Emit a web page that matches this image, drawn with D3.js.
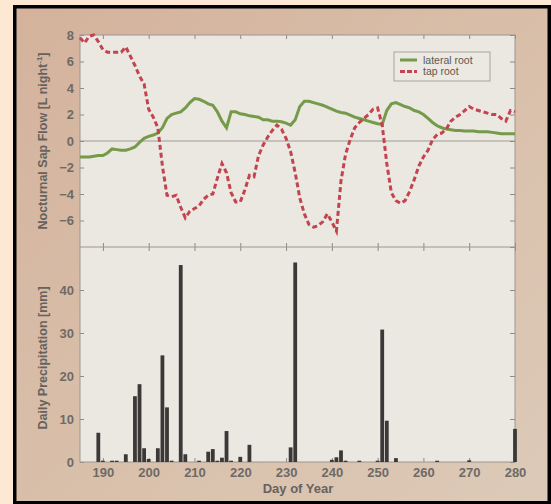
<!DOCTYPE html>
<html>
<head>
<meta charset="utf-8">
<script src="https://cdn.jsdelivr.net/npm/d3@7"></script>
<style>
  body { margin: 0; background: #fde8d3; }
  svg { display: block; font-family: "Liberation Sans", Arial, sans-serif; }
  .tick text { fill: #6e6a66; font-size: 13px; font-weight: bold; }
  .tick line { stroke: #8f8a85; }
  .domain { stroke: none; }
  .title { fill: #66625e; font-weight: bold; }
</style>
</head>
<body>
<div id="chart"></div>
<script>
// day of year for the two sap flow series
let days = d3.range(185, 281);

// nocturnal sap flow, L per night
let lateralRoot = [
  -1.2, -1.2, -1.2, -1.15, -1.1, -1.1, -0.9, -0.6, -0.65, -0.7,
  -0.7, -0.6, -0.45, -0.1, 0.2, 0.35, 0.45, 0.6, 1.0, 1.7,
  2.0, 2.1, 2.2, 2.5, 2.9, 3.2, 3.15, 3.0, 2.8, 2.7,
  2.2, 1.5, 1.0, 2.2, 2.2, 2.05, 2.0, 1.9, 1.85, 1.8,
  1.6, 1.6, 1.5, 1.5, 1.45, 1.35, 1.2, 1.6, 2.6, 3.0,
  3.0, 2.9, 2.8, 2.7, 2.55, 2.4, 2.25, 2.15, 2.1, 1.95,
  1.8, 1.7, 1.6, 1.5, 1.4, 1.3, 1.25, 2.3, 2.8, 2.9,
  2.75, 2.6, 2.5, 2.3, 2.2, 2.0, 1.7, 1.4, 1.15, 1.0,
  0.9, 0.85, 0.8, 0.8, 0.75, 0.75, 0.75, 0.7, 0.7, 0.7,
  0.65, 0.6, 0.55, 0.55, 0.55, 0.55
];
let tapRoot = [
  7.8, 7.4, 7.9, 8.0, 7.5, 6.9, 6.7, 6.7, 6.7, 6.7,
  7.1, 6.4, 5.7, 4.9, 4.3, 2.4, 1.8, 1.0, -1.9, -4.1,
  -4.2, -4.1, -5.0, -5.8, -5.3, -5.1, -4.9, -4.4, -4.1, -4.0,
  -2.8, -1.7, -2.4, -3.9, -4.6, -4.6, -3.7, -2.6, -2.7, -1.1,
  -0.3, 0.3, 0.8, 1.2, 0.9, 0.2, -0.8, -2.4, -4.3, -5.5,
  -6.3, -6.5, -6.4, -6.1, -5.5, -6.1, -6.8, -3.0, -1.0, 0.1,
  1.0, 1.4, 1.7, 2.0, 2.4, 2.5, 1.2, -1.7, -3.9, -4.5,
  -4.7, -4.5, -3.8, -2.9, -1.9, -1.2, -0.7, 0.1, 0.5, 0.6,
  0.9, 1.5, 1.8, 2.0, 2.3, 2.6, 2.4, 2.3, 2.2, 2.1,
  2.0, 2.0, 1.7, 1.5, 2.3, 2.2
];

// daily precipitation, mm (only days with rain)
let rainDays = [189, 190, 192, 193, 195, 197, 198, 199, 200, 202, 203, 204, 205, 207, 208,
  211, 213, 214, 215, 216, 217, 218, 220, 222, 231, 232, 240, 241, 242, 243, 246,
  250, 251, 252, 254, 263, 270, 280];
let rainMm = [6.8, 0.3, 0.3, 0.3, 1.8, 15.3, 18.1, 3.2, 0.7, 3.2, 24.8, 12.7, 0.3, 45.8, 1.8,
  0.3, 2.4, 3.0, 0.3, 1.0, 7.2, 0.3, 1.2, 4.0, 3.4, 46.4, 0.5, 1.1, 2.7, 0.3, 0.3,
  0.3, 30.8, 9.6, 0.9, 0.3, 0.4, 7.7];

let dayTicks = [190, 200, 210, 220, 230, 240, 250, 260, 270, 280];
let flowTicks = [-6, -4, -2, 0, 2, 4, 6, 8];
let rainTicks = [0, 10, 20, 30, 40];

let width = 551, height = 504;
let left = 80, right = 515, top1 = 35, mid = 247, bottom = 462;

let svg = d3.select('#chart').append('svg')
  .attr('width', width)
  .attr('height', height);

// panel gradient behind the plots
let defs = svg.append('defs');
let grad = defs.append('linearGradient').attr('id', 'panel')
  .attr('x1', '0%').attr('y1', '0%').attr('x2', '100%').attr('y2', '100%');
grad.append('stop').attr('offset', '0%').attr('stop-color', '#d4b29c');
grad.append('stop').attr('offset', '55%').attr('stop-color', '#d9c0ab');
grad.append('stop').attr('offset', '100%').attr('stop-color', '#dccab8');

svg.append('rect').attr('width', width).attr('height', height).attr('fill', '#fde8d3');
svg.append('rect')
  .attr('x', 14.75).attr('y', 6.75)
  .attr('width', 534.5).attr('height', 496)
  .attr('fill', 'url(#panel)')
  .attr('stroke', '#000').attr('stroke-width', 3.5);

// plot backgrounds
svg.append('rect').attr('x', left).attr('y', top1)
  .attr('width', right - left).attr('height', bottom - top1)
  .attr('fill', '#ebe7e1');

let x = d3.scaleLinear().domain([185, 280]).range([left, right]);
let yFlow = d3.scaleLinear().domain([-8, 8]).range([mid, top1]);
let yRain = d3.scaleLinear().domain([0, 50]).range([bottom, mid]);

// zero line
svg.append('line')
  .attr('x1', left).attr('x2', right)
  .attr('y1', yFlow(0)).attr('y2', yFlow(0))
  .attr('stroke', '#a29c96').attr('stroke-width', 1.2);

// axes, ticks pointing inward on every side
function addAxis(axis, tx, ty, labels) {
  let g = svg.append('g').attr('transform', 'translate(' + tx + ',' + ty + ')').call(axis);
  if (!labels) g.selectAll('text').remove();
  return g;
}
addAxis(d3.axisLeft(yFlow).tickValues(flowTicks).tickSize(-4).tickSizeOuter(0).tickPadding(6), left, 0, true);
addAxis(d3.axisRight(yFlow).tickValues(flowTicks).tickSize(-5).tickSizeOuter(0), right, 0, false);
addAxis(d3.axisTop(x).tickValues(dayTicks).tickSize(-4).tickSizeOuter(0), 0, top1, false);
addAxis(d3.axisBottom(x).tickValues(dayTicks).tickSize(-4).tickSizeOuter(0), 0, mid, false);

addAxis(d3.axisLeft(yRain).tickValues(rainTicks).tickSize(-4).tickSizeOuter(0).tickPadding(6), left, 0, true);
addAxis(d3.axisRight(yRain).tickValues(rainTicks.concat([50])).tickSize(-5).tickSizeOuter(0), right, 0, false);
addAxis(d3.axisTop(x).tickValues(dayTicks).tickSize(-4).tickSizeOuter(0), 0, mid, false);
addAxis(d3.axisBottom(x).tickValues(dayTicks).tickSize(-4).tickSizeOuter(0).tickPadding(6), 0, bottom, true);

// frame lines around both plots
svg.append('rect').attr('x', left).attr('y', top1)
  .attr('width', right - left).attr('height', bottom - top1)
  .attr('fill', 'none').attr('stroke', '#9c968f').attr('stroke-width', 1);
svg.append('line').attr('x1', left).attr('x2', right).attr('y1', mid).attr('y2', mid)
  .attr('stroke', '#9c968f').attr('stroke-width', 1);

// precipitation bars
svg.append('g').selectAll('rect')
  .data(rainDays)
  .enter()
  .append('rect')
  .attr('x', function (d) { return x(d) - 1.9; })
  .attr('y', function (d, i) { return yRain(rainMm[i]); })
  .attr('width', 3.8)
  .attr('height', function (d, i) { return yRain(0) - yRain(rainMm[i]); })
  .attr('fill', '#3b3937');

// sap flow lines
let line = d3.line()
  .x(function (d) { return x(d[0]); })
  .y(function (d) { return yFlow(d[1]); });

svg.append('path')
  .datum(days.map(function (d, i) { return [d, lateralRoot[i]]; }))
  .attr('d', line)
  .attr('fill', 'none')
  .attr('stroke', '#749a4a')
  .attr('stroke-width', 3);

svg.append('path')
  .datum(days.map(function (d, i) { return [d, tapRoot[i]]; }))
  .attr('d', line)
  .attr('fill', 'none')
  .attr('stroke', '#c2444f')
  .attr('stroke-width', 3)
  .attr('stroke-dasharray', '5,3');

// legend
let legend = svg.append('g').attr('transform', 'translate(394,52)');
legend.append('rect').attr('width', 96).attr('height', 29)
  .attr('fill', '#ece8e2').attr('stroke', '#a9a39c').attr('stroke-width', 1);
legend.append('line').attr('x1', 6).attr('x2', 23).attr('y1', 8).attr('y2', 8)
  .attr('stroke', '#749a4a').attr('stroke-width', 3);
legend.append('line').attr('x1', 6).attr('x2', 23).attr('y1', 19.5).attr('y2', 19.5)
  .attr('stroke', '#c2444f').attr('stroke-width', 3).attr('stroke-dasharray', '5,2');
legend.append('text').attr('x', 29).attr('y', 11.5).text('lateral root')
  .attr('font-size', 10.5).attr('fill', '#5c5853');
legend.append('text').attr('x', 29).attr('y', 23).text('tap root')
  .attr('font-size', 10.5).attr('fill', '#5c5853');

// axis titles
let flowTitle = svg.append('text').attr('class', 'title')
  .attr('transform', 'translate(47,141) rotate(-90)')
  .attr('text-anchor', 'middle')
  .attr('font-size', 12.5);
flowTitle.append('tspan').text('Nocturnal Sap Flow [L night');
flowTitle.append('tspan').attr('dy', -5).attr('font-size', 8).text('-1');
flowTitle.append('tspan').attr('dy', 5).text(']');

svg.append('text').attr('class', 'title')
  .attr('transform', 'translate(47,358) rotate(-90)')
  .attr('text-anchor', 'middle')
  .attr('font-size', 12.5)
  .text('Daily Precipitation [mm]');

svg.append('text').attr('class', 'title')
  .attr('x', 298).attr('y', 493)
  .attr('text-anchor', 'middle')
  .attr('font-size', 13)
  .text('Day of Year');
</script>
</body>
</html>
